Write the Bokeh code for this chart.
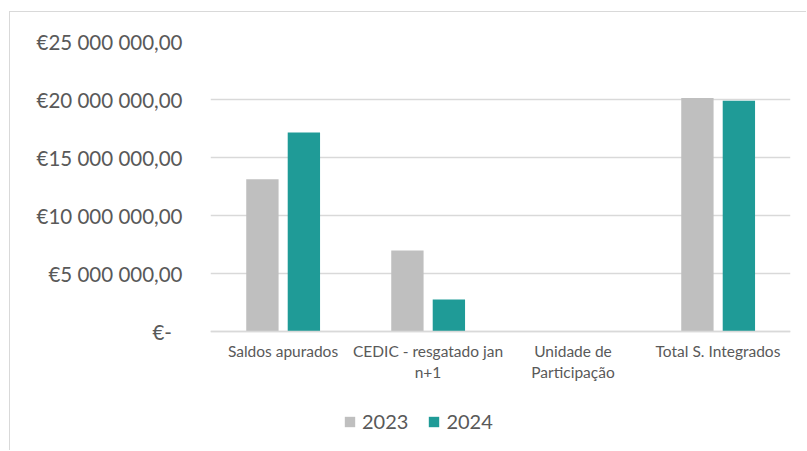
from bokeh.plotting import figure
from bokeh.models import ColumnDataSource, FactorRange, CustomJSTickFormatter, FixedTicker, Legend, LegendItem, Range1d
from bokeh.transform import dodge
from bokeh.embed import file_html
from bokeh.resources import INLINE

categories = ["Saldos apurados", "CEDIC - resgatado jan\nn+1", "Unidade de\nParticipação", "Total S. Integrados"]
values_2023 = [13120000, 6990000, 0, 20140000]
values_2024 = [17160000, 2750000, 0, 19900000]
y_ticks = [0, 5000000, 10000000, 15000000, 20000000, 25000000]

FONT = "Lato"
TXT = "#595959"
GRID = "#D9D9D9"

W, H = 797, 439
TOP, BOTTOM = 29, 5
frame_h = H - TOP - BOTTOM
axis_px = 290  # pixels between 0 and the top tick
y_top = y_ticks[-1]
y_bottom = y_top - y_top * frame_h / axis_px

src = ColumnDataSource(dict(cat=categories, v2023=values_2023, v2024=values_2024))

p = figure(x_range=FactorRange(*categories, range_padding=0), y_range=Range1d(y_bottom, y_top),
           width=W, height=H, output_backend="svg", toolbar_location=None,
           min_border_left=200, min_border_right=17, min_border_top=TOP, min_border_bottom=BOTTOM)
p.styles = {"border-left": "1px solid #D9D9D9", "border-top": "1px solid #D9D9D9",
            "margin-top": "11px", "margin-left": "9px"}
p.outline_line_color = None
p.background_fill_color = "white"
p.border_fill_color = "white"

r1 = p.vbar(x=dodge("cat", -0.142, range=p.x_range), top="v2023", width=0.223, source=src,
            fill_color="#BFBFBF", line_color=None)
r2 = p.vbar(x=dodge("cat", 0.144, range=p.x_range), top="v2024", width=0.223, source=src,
            fill_color="#1F9B97", line_color=None)

p.xgrid.grid_line_color = None
p.ygrid.grid_line_color = GRID
p.ygrid.grid_line_width = 1.5
p.yaxis.ticker = FixedTicker(ticks=y_ticks)
p.yaxis.formatter = CustomJSTickFormatter(code="""
if (tick == 0) return "€-\u00a0\u00a0";
const s = Math.round(tick).toString().replace(/\\B(?=(\\d{3})+(?!\\d))/g, " ");
return "€" + s + ",00";
""")
p.yaxis.axis_line_color = None
p.yaxis.major_tick_line_color = None
p.yaxis.minor_tick_line_color = None
p.yaxis.major_tick_out = 0
p.yaxis.major_label_standoff = 28
p.yaxis.major_label_text_font = FONT
p.yaxis.major_label_text_font_size = "20.5px"
p.yaxis.major_label_text_color = TXT

p.xaxis.fixed_location = 0
p.xaxis.axis_line_color = GRID
p.xaxis.axis_line_width = 1.5
p.xaxis.major_tick_line_color = None
p.xaxis.minor_tick_line_color = None
p.xaxis.major_tick_out = 0
p.xaxis.major_label_standoff = 10
p.xaxis.major_label_text_font = FONT
p.xaxis.major_label_text_font_size = "15.5px"
p.xaxis.major_label_text_color = TXT

legend = Legend(items=[LegendItem(label="2023", renderers=[r1]), LegendItem(label="2024", renderers=[r2])],
                orientation="horizontal", location=(133, 13), padding=0, margin=0,
                glyph_width=13, glyph_height=13, label_standoff=6, spacing=19,
                label_text_font=FONT, label_text_font_size="20px", label_text_color=TXT,
                border_line_color=None, background_fill_alpha=0)
p.add_layout(legend, "center")

open("out.html", "w").write(file_html(p, INLINE))
